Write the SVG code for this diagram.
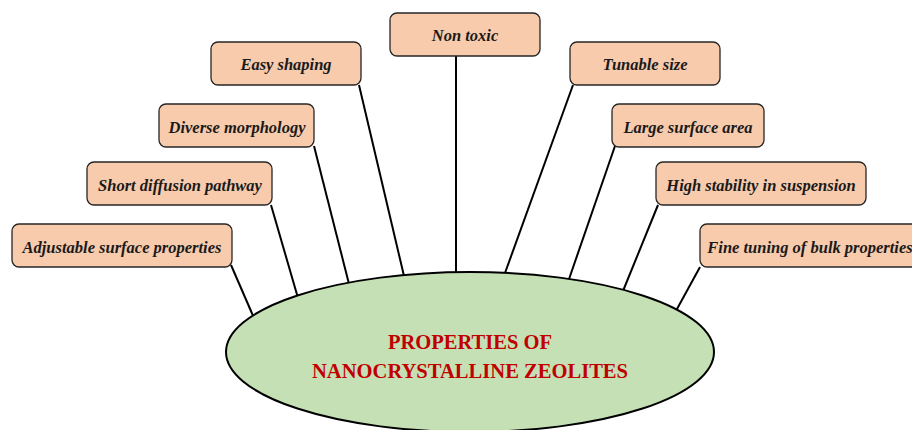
<svg xmlns="http://www.w3.org/2000/svg" width="912" height="430" viewBox="0 0 912 430">
<style>
.box{fill:#f8cbad;stroke:#262626;stroke-width:1.3}
.lbl{font-family:"Liberation Serif","Times New Roman",serif;font-weight:bold;font-style:italic;font-size:16.5px;fill:#1a1a1a;text-anchor:middle}
.con line{stroke:#000;stroke-width:2}
.title{font-family:"Liberation Serif","Times New Roman",serif;font-weight:bold;font-size:22px;fill:#c00000;text-anchor:middle}
</style>
<rect width="912" height="430" fill="#fff"/>
<g id="connectors" class="con">
<line x1="456" y1="56" x2="456" y2="273"/>
<line x1="359" y1="85" x2="404" y2="276"/>
<line x1="573" y1="85" x2="505" y2="273"/>
<line x1="314" y1="146" x2="349" y2="284"/>
<line x1="615" y1="146" x2="568" y2="282"/>
<line x1="271" y1="205" x2="298" y2="298"/>
<line x1="658" y1="205" x2="623" y2="291"/>
<line x1="231" y1="265" x2="254" y2="318"/>
<line x1="700" y1="267" x2="677" y2="309"/>
</g>
<g id="center">
<ellipse cx="470" cy="352" rx="244" ry="80" fill="#c5e0b4" stroke="#000" stroke-width="2"/>
<text class="title" x="470" y="349" textLength="164" lengthAdjust="spacingAndGlyphs">PROPERTIES OF</text>
<text class="title" x="470" y="378" textLength="316" lengthAdjust="spacingAndGlyphs">NANOCRYSTALLINE ZEOLITES</text>
</g>
<g id="n-nontoxic"><rect class="box" x="390" y="13" width="150" height="43" rx="7"/><text class="lbl" x="465" y="41">Non toxic</text></g>
<g id="n-easy"><rect class="box" x="211" y="42" width="150" height="43" rx="7"/><text class="lbl" x="286" y="70">Easy shaping</text></g>
<g id="n-tunable"><rect class="box" x="570" y="42" width="150" height="43" rx="7"/><text class="lbl" x="645" y="70">Tunable size</text></g>
<g id="n-diverse"><rect class="box" x="159" y="104" width="155" height="43" rx="7"/><text class="lbl" x="237" y="133">Diverse morphology</text></g>
<g id="n-large"><rect class="box" x="612" y="104" width="152" height="43" rx="7"/><text class="lbl" x="688" y="133">Large surface area</text></g>
<g id="n-short"><rect class="box" x="87" y="162" width="185" height="43" rx="7"/><text class="lbl" x="180" y="191">Short diffusion pathway</text></g>
<g id="n-high"><rect class="box" x="656" y="162" width="210" height="43" rx="7"/><text class="lbl" x="761" y="191">High stability in suspension</text></g>
<g id="n-adjust"><rect class="box" x="12" y="224" width="220" height="43" rx="7"/><text class="lbl" x="122" y="253">Adjustable surface properties</text></g>
<g id="n-fine"><rect class="box" x="700" y="224" width="220" height="43" rx="7"/><text class="lbl" x="810" y="253">Fine tuning of bulk properties</text></g>
</svg>
